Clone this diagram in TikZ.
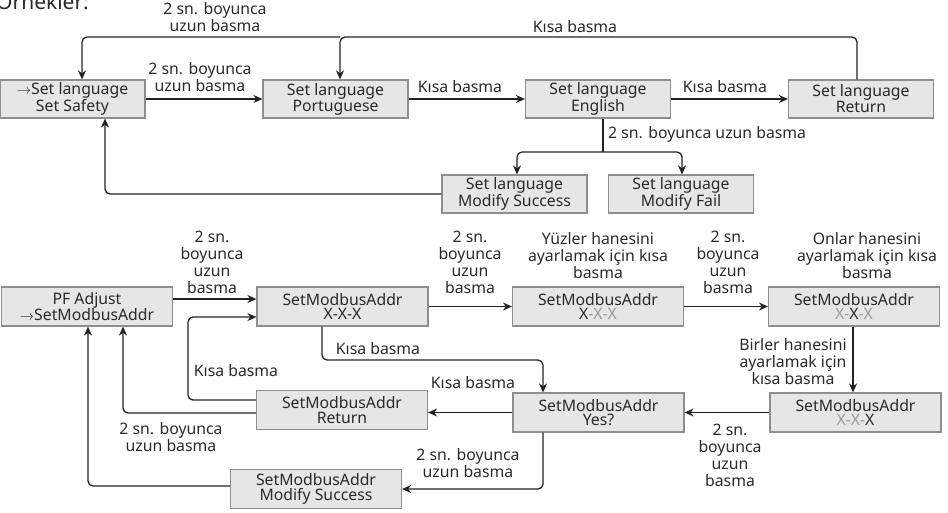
\documentclass[tikz,border=0pt]{standalone}
\usepackage{fontspec}
\setmainfont{Noto Sans}
\usetikzlibrary{arrows.meta}
\definecolor{boxfill}{HTML}{E6E6E6}
\definecolor{boxedge}{HTML}{8E8E8E}
\definecolor{txt}{HTML}{2A2A2A}
\definecolor{wirecol}{HTML}{222222}
\definecolor{dimx}{HTML}{9A9A9A}

\begin{document}
\begin{tikzpicture}[x=1pt,y=-1pt,
  box/.style={draw=boxedge,fill=boxfill,line width=1.2pt,minimum width=145pt,
    minimum height=38pt,inner sep=0pt,align=center,text=txt,
    font=\fontsize{15.8}{14.8}\selectfont},
  wbox/.style={box,minimum width=171pt,minimum height=39pt},
  lbl/.style={text=txt,align=center,inner sep=0pt,font=\fontsize{15.8}{17}\selectfont},
  wire/.style={draw=wirecol,line width=1.3pt,rounded corners=5pt},
  arr/.style={wire,-{Stealth[length=9pt,width=8pt]}}]
\useasboundingbox (0,0) rectangle (948,512);
\node[anchor=base west,text=txt,inner sep=0pt,font=\fontsize{21}{24}\selectfont] (title) at (-4,9) {Örnekler:};
% language menu
\node[box] (saf) at (72.5,99) {$\rightarrow$Set language\\Set Safety};
\node[box] (por) at (335.5,99) {Set language\\Portuguese};
\node[box] (eng) at (598,99) {Set language\\English};
\node[box] (ret) at (861,99) {Set language\\Return};
\node[box] (msucc) at (514.5,194) {Set language\\Modify Success};
\node[box] (mfail) at (681,194) {Set language\\Modify Fail};
\coordinate (tp) at (0,37);
\coordinate (sp) at (603,152);
\draw[arr] (saf.east) -- (por.west);
\draw[arr] (por.east) -- (eng.west);
\draw[arr] (eng.east) -- (ret.west);
\draw[arr] ([xshift=-4pt]ret.north) |- ([xshift=4.5pt]por.north |- tp) -- ([xshift=4.5pt]por.north);
\draw[arr] ([xshift=4.5pt]por.north |- tp) -| ([xshift=9.5pt]saf.north);
\draw[wire] ([xshift=5pt]eng.south) -- (sp);
\draw[arr] (sp) -| ([xshift=2.5pt]msucc.north);
\draw[arr] (sp) -| ([xshift=1pt]mfail.north);
\draw[arr] (msucc.west) -| ([xshift=32.5pt]saf.south);
\node[lbl] (l1) at (215,17) {2 sn. boyunca\\uzun basma};
\node[lbl] (l2) at (575,27) {Kısa basma};
\node[lbl] (l3) at (200,77) {2 sn. boyunca\\uzun basma};
\node[lbl] (l4) at (460,87) {Kısa basma};
\node[lbl] (l5) at (725,87) {Kısa basma};
\node[lbl,anchor=west] (l6) at (608,134) {2 sn. boyunca uzun basma};
% modbus address menu
\node[wbox] (pf) at (87,306.5) {PF Adjust\\$\rightarrow$SetModbusAddr};
\node[wbox] (xxx) at (342.5,306.5) {SetModbusAddr\\X-X-X};
\node[wbox] (hun) at (598,306.5) {SetModbusAddr\\X\textcolor{dimx}{-X-X}};
\node[wbox] (ten) at (854,306.5) {SetModbusAddr\\\textcolor{dimx}{X-}X\textcolor{dimx}{-X}};
\node[wbox] (one) at (855.5,412.5) {SetModbusAddr\\\textcolor{dimx}{X-X-}X};
\node[wbox] (yes) at (598.5,412.5) {SetModbusAddr\\Yes?};
\node[wbox] (mret) at (342,410) {SetModbusAddr\\Return};
\node[wbox] (mmod) at (316,489) {SetModbusAddr\\Modify Success};
\draw[arr] ([yshift=7.5pt]pf.east) -- ([yshift=7.5pt]xxx.west);
\draw[arr] (xxx.east) -- (hun.west);
\draw[arr] (hun.east) -- (ten.west);
\draw[arr] ([xshift=-1pt]ten.south) -- ([xshift=-2.5pt]one.north);
\draw[arr] (one.west) -- (one.west -| yes.east);
\draw[arr] (yes.west) -- (yes.west -| mret.east);
\draw[arr] ([xshift=-20.5pt]xxx.south) |- (350,360) -| ([xshift=-55.5pt]yes.north);
\draw[arr] ([xshift=-55.5pt]yes.south) |- (mmod.east);
\draw[arr] ([yshift=10pt]mret.west) -| (188,360) |- ([yshift=-10.5pt]xxx.west);
\draw[arr] ([yshift=-3pt]mret.west) -| ([xshift=36pt]pf.south);
\draw[arr] ([yshift=3pt]mmod.west) -| ([xshift=1pt]pf.south);
\node[lbl] (l7) at (212,262) {2 sn.\\boyunca\\uzun\\basma};
\node[lbl] (l8) at (470,262) {2 sn.\\boyunca\\uzun\\basma};
\node[lbl] (l9) at (598,256) {Yüzler hanesini\\ayarlamak için kısa\\basma};
\node[lbl] (l10) at (728,262) {2 sn.\\boyunca\\uzun\\basma};
\node[lbl] (l11) at (867,256) {Onlar hanesini\\ayarlamak için kısa\\basma};
\node[lbl] (l12) at (793,362) {Birler hanesini\\ayarlamak için\\kısa basma};
\node[lbl] (l13) at (378,349) {Kısa basma};
\node[lbl] (l14) at (236,371) {Kısa basma};
\node[lbl] (l15) at (473,383) {Kısa basma};
\node[lbl] (l16) at (171,437) {2 sn. boyunca\\uzun basma};
\node[lbl] (l17) at (730,455) {2 sn.\\boyunca\\uzun\\basma};
\node[lbl] (l18) at (468,463) {2 sn. boyunca\\uzun basma};
\end{tikzpicture}
\end{document}
